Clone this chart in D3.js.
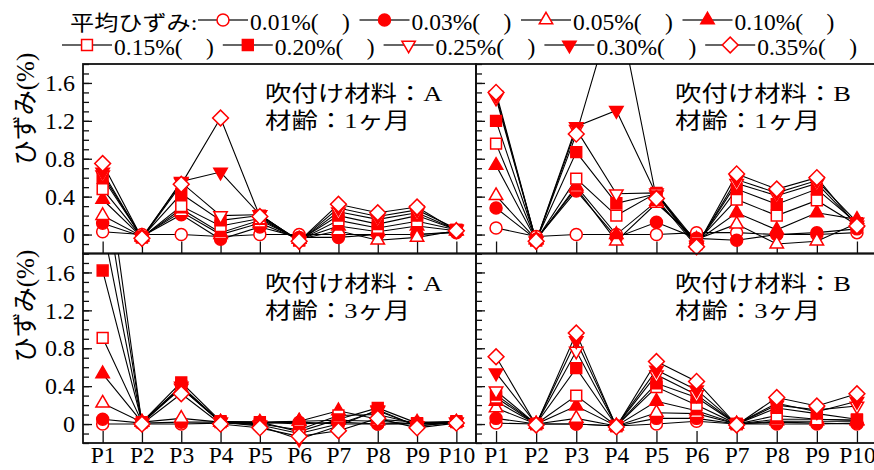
<!DOCTYPE html>
<html>
<head>
<meta charset="utf-8">
<script src="https://cdn.jsdelivr.net/npm/d3@7"></script>
<style>
	body { margin: 0; background: #fff; }
	svg { display: block; }
	text { font-family: "Liberation Serif", "Noto Sans CJK JP", serif; fill: #000; }
</style>
</head>
<body>
<div id="chart"></div>
<script>
//////////////////////////// data /////////////////////////////////////////

const points = ["P1", "P2", "P3", "P4", "P5", "P6", "P7", "P8", "P9", "P10"];
const levels = ["0.01%", "0.03%", "0.05%", "0.10%", "0.15%", "0.20%", "0.25%", "0.30%", "0.35%"];
const shapes = ["circle", "circle", "up", "up", "square", "square", "down", "down", "diamond"];
const filled = [false, true, false, true, false, true, false, true, false];

// material A, 1 month (one row per level, one value per point)
const matA1 = [
	[0.03, 0.0, 0.0, -0.02, 0.0, 0.0, 0.0, 0.0, 0.0, 0.02],
	[0.12, -0.02, 0.21, -0.05, 0.08, -0.03, -0.03, 0.0, 0.0, 0.03],
	[0.2, -0.02, 0.24, 0.0, 0.12, -0.05, 0.04, -0.06, -0.03, 0.04],
	[0.37, -0.03, 0.27, 0.02, 0.15, -0.05, 0.09, 0.03, 0.09, 0.04],
	[0.48, -0.03, 0.3, 0.09, 0.17, -0.06, 0.15, 0.07, 0.14, 0.05],
	[0.6, -0.03, 0.43, 0.15, 0.2, -0.06, 0.2, 0.11, 0.2, 0.05],
	[0.63, -0.03, 0.55, 0.2, 0.21, -0.07, 0.24, 0.16, 0.23, 0.05],
	[0.66, -0.04, 0.56, 0.66, 0.21, -0.07, 0.28, 0.19, 0.26, 0.06],
	[0.75, -0.04, 0.53, 1.23, 0.19, -0.07, 0.32, 0.23, 0.29, 0.04]
];

// material B, 1 month
const matB1 = [
	[0.07, -0.02, 0.0, 0.0, 0.0, 0.02, 0.02, 0.0, 0.0, 0.02],
	[0.28, -0.05, 0.46, -0.03, 0.13, -0.04, -0.06, 0.0, 0.02, 0.06],
	[0.41, -0.05, 0.49, -0.07, 0.33, -0.05, 0.11, -0.1, -0.07, 0.12],
	[0.73, -0.06, 0.51, 0.0, 0.35, -0.07, 0.23, 0.05, 0.23, 0.16],
	[0.96, -0.06, 0.59, 0.2, 0.44, -0.08, 0.37, 0.2, 0.36, 0.1],
	[1.2, -0.06, 0.87, 0.33, 0.43, -0.1, 0.48, 0.32, 0.48, 0.12],
	[1.44, -0.07, 1.11, 0.43, 0.44, -0.11, 0.54, 0.41, 0.54, 0.1],
	[1.47, -0.07, 1.14, 1.31, 0.42, -0.12, 0.58, 0.44, 0.57, 0.13],
	[1.5, -0.07, 1.06, 2.5, 0.38, -0.13, 0.64, 0.48, 0.6, 0.09]
];

// material A, 3 months
const matA3 = [
	[0.0, 0.0, 0.0, 0.01, 0.01, 0.02, 0.0, 0.0, 0.0, 0.01],
	[0.05, 0.01, 0.02, 0.02, 0.02, 0.0, 0.02, 0.0, 0.01, 0.02],
	[0.22, 0.02, 0.06, 0.02, 0.02, 0.03, 0.04, 0.03, 0.0, 0.02],
	[0.53, 0.02, 0.38, 0.02, 0.01, 0.03, 0.14, 0.05, 0.02, 0.02],
	[0.91, 0.02, 0.4, 0.02, 0.0, -0.06, 0.09, 0.1, 0.0, 0.02],
	[1.62, 0.02, 0.44, 0.03, 0.02, -0.08, 0.05, 0.17, 0.01, 0.03],
	[2.1, 0.01, 0.38, 0.02, -0.01, -0.1, 0.0, 0.14, -0.02, 0.02],
	[2.6, 0.01, 0.4, 0.02, -0.02, -0.16, -0.02, 0.15, -0.02, 0.02],
	[3.0, 0.0, 0.32, 0.0, -0.04, -0.13, -0.07, 0.06, -0.04, 0.01]
];

// material B, 3 months
const matB3 = [
	[0.01, 0.0, 0.0, -0.02, 0.0, 0.03, 0.0, 0.02, 0.01, 0.0],
	[0.06, 0.0, 0.0, -0.02, 0.06, 0.06, 0.0, 0.0, 0.0, 0.01],
	[0.17, 0.0, 0.06, -0.02, 0.12, 0.11, 0.0, 0.03, 0.03, 0.03],
	[0.24, 0.0, 0.19, -0.02, 0.24, 0.14, 0.0, 0.05, 0.05, 0.04],
	[0.28, 0.0, 0.3, -0.02, 0.39, 0.2, 0.0, 0.09, 0.05, 0.04],
	[0.31, 0.0, 0.59, -0.02, 0.43, 0.28, 0.0, 0.17, 0.11, 0.05],
	[0.35, 0.0, 0.77, -0.02, 0.52, 0.31, 0.0, 0.2, 0.15, 0.19],
	[0.54, 0.0, 0.88, -0.02, 0.57, 0.36, 0.0, 0.22, 0.13, 0.24],
	[0.71, -0.01, 0.96, -0.03, 0.66, 0.45, -0.01, 0.28, 0.19, 0.32]
];

const yDomain = [-0.2, 1.8];
const majorTicks = [0, 0.4, 0.8, 1.2, 1.6];
const minorTicks = d3.range(-2, 19).map((d) => d / 10);

const panels = [
	{ data: matA1, mat: "A", age: "1", col: 0, row: 0 },
	{ data: matB1, mat: "B", age: "1", col: 1, row: 0 },
	{ data: matA3, mat: "A", age: "3", col: 0, row: 1 },
	{ data: matB3, mat: "B", age: "3", col: 1, row: 1 }
];

//////////////////////////// layout ///////////////////////////////////////

const width = 874;
const height = 470;
const colX = [[83, 476], [476, 877]];
const rowY = [[64, 253.5], [253.5, 443]];
const red = "#ff0000";

const svg = d3.select("#chart").append("svg")
	.attr("width", width)
	.attr("height", height);

// marker generator
const symbolFor = (shape) => {
	if (shape === "circle") return d3.symbol(d3.symbolCircle, 113)();
	if (shape === "square") return d3.symbol(d3.symbolSquare, 118)();
	if (shape === "diamond") return d3.symbol(d3.symbolSquare, 125)();
	return d3.symbol(d3.symbolTriangle, 78)();
};
const rotFor = (shape) => (shape === "down" ? 180 : shape === "diamond" ? 45 : 0);

const drawMarker = (g, i, x, y) => {
	g.append("path")
		.attr("d", symbolFor(shapes[i]))
		.attr("transform", `translate(${x},${y}) rotate(${rotFor(shapes[i])})`)
		.attr("fill", filled[i] ? red : "#fff")
		.attr("stroke", red)
		.attr("stroke-width", 1.5);
};

//////////////////////////// panels ///////////////////////////////////////

panels.forEach((p, pi) => {
	const [x0, x1] = colX[p.col];
	const [y0, y1] = rowY[p.row];

	const xScale = d3.scalePoint().domain(points).range([x0, x1]).padding(0.5);
	const yScale = d3.scaleLinear().domain(yDomain).range([y1, y0]);

	const g = svg.append("g").attr("class", "panel");

	svg.append("clipPath").attr("id", "clip" + pi)
		.append("rect")
		.attr("x", x0).attr("y", y0)
		.attr("width", x1 - x0).attr("height", y1 - y0);

	// minor y ticks
	g.append("g")
		.attr("transform", `translate(${x0},0)`)
		.call(d3.axisLeft(yScale).tickValues(minorTicks).tickSize(-6).tickFormat(""))
		.call((a) => a.select(".domain").remove());

	// major y ticks (+ labels on left column)
	const yAxis = g.append("g")
		.attr("transform", `translate(${x0},0)`)
		.call(d3.axisLeft(yScale).tickValues(majorTicks).tickSize(-9).tickPadding(8)
			.tickFormat(p.col === 0 ? d3.format("") : ""))
		.call((a) => a.select(".domain").remove());
	yAxis.selectAll("text").attr("font-size", 24).attr("font-family", null).attr("fill", "#000");

	// x ticks (+ labels on bottom row)
	const xAxis = g.append("g")
		.attr("transform", `translate(0,${y1})`)
		.call(d3.axisBottom(xScale).tickSize(-12).tickPadding(3)
			.tickFormat(p.row === 1 ? (d) => d : ""))
		.call((a) => a.select(".domain").remove());
	xAxis.selectAll("text").attr("font-size", 23.5).attr("font-family", null).attr("fill", "#000");
	g.selectAll(".tick line").attr("stroke", "#111").attr("stroke-width", 1.3);

	// frame
	g.append("rect")
		.attr("x", x0).attr("y", y0)
		.attr("width", x1 - x0).attr("height", y1 - y0)
		.attr("fill", "none").attr("stroke", "#111").attr("stroke-width", 1.8);

	// lines
	const line = d3.line()
		.x((d, i) => xScale(points[i]))
		.y((d) => yScale(d));

	g.append("g").attr("clip-path", `url(#clip${pi})`)
		.selectAll("path")
		.data(p.data)
		.join("path")
		.attr("d", line)
		.attr("fill", "none")
		.attr("stroke", "#000")
		.attr("stroke-width", 1.1);

	// markers (only values inside the axis range are drawn)
	const mg = g.append("g");
	p.data.forEach((series, si) => {
		series.forEach((v, k) => {
			if (v < yDomain[0] - 0.01 || v > yDomain[1]) return;
			drawMarker(mg, si, xScale(points[k]), yScale(v));
		});
	});

	// annotation
	const tx = x0 + (p.col === 0 ? 182 : 199);
	g.append("text")
		.attr("transform", `translate(${tx},${y0 + 37}) scale(1.2,1)`)
		.attr("font-size", 22)
		.text(`吹付け材料：${p.mat}`);
	g.append("text")
		.attr("transform", `translate(${tx},${y0 + 64}) scale(1.2,1)`)
		.attr("font-size", 22)
		.text(`材齢：${p.age}ヶ月`);
});

//////////////////////////// y labels /////////////////////////////////////

[109, 306].forEach((cy) => {
	svg.append("text")
		.attr("transform", `translate(34,${cy}) rotate(-90)`)
		.attr("text-anchor", "middle")
		.attr("font-size", 25)
		.text("ひずみ(%)");
});

//////////////////////////// legend ///////////////////////////////////////

const legend = svg.append("g").attr("class", "legend");

legend.append("text")
	.attr("transform", "translate(70,30) scale(1.15,1)")
	.attr("font-size", 21)
	.text("平均ひずみ:");

const rowStart = [198, 62];
const rowStep = [161.5, 160.8];
const rowMid = [20, 45];

levels.forEach((lv, i) => {
	const row = i < 4 ? 0 : 1;
	const k = row === 0 ? i : i - 4;
	const lx = rowStart[row] + k * rowStep[row];
	const ly = rowMid[row];
	const item = legend.append("g");
	item.append("line")
		.attr("x1", lx).attr("x2", lx + 50)
		.attr("y1", ly).attr("y2", ly)
		.attr("stroke", "#333").attr("stroke-width", 1.5);
	drawMarker(item, i, lx + 25, ly);
	item.append("text")
		.attr("x", lx + 52)
		.attr("y", ly + 10)
		.attr("font-size", 23.5)
		.text(`${lv}(\u3000)`);
});
</script>
</body>
</html>
